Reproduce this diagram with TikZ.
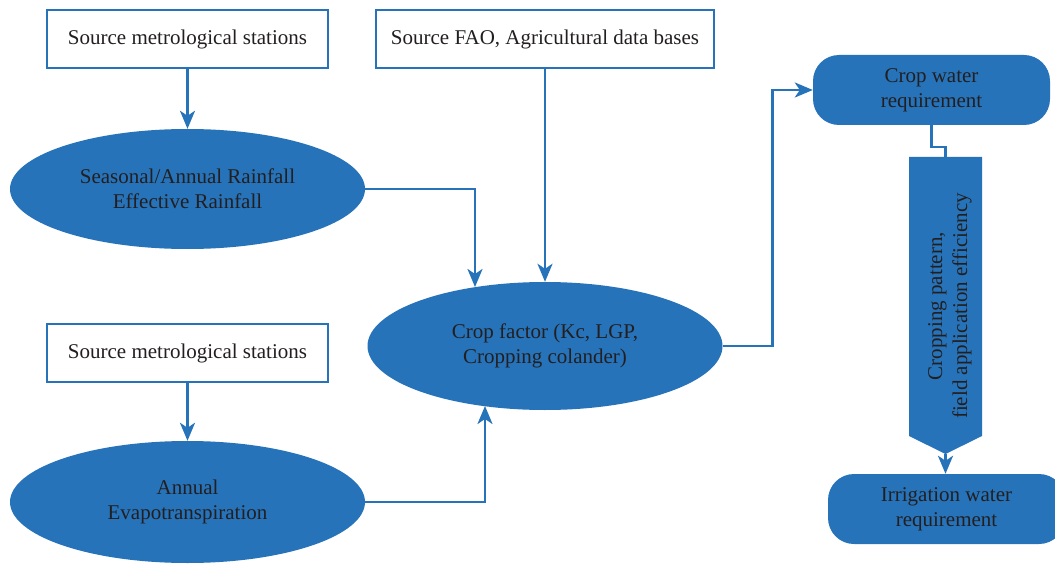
\documentclass[tikz,border=0pt]{standalone}
\usepackage{fontspec}
\setmainfont{Liberation Serif}
\usetikzlibrary{shapes.geometric,arrows.meta}
\definecolor{flowblue}{HTML}{2673BA}
\definecolor{textgray}{HTML}{231F20}
\begin{document}
\begin{tikzpicture}[x=1pt,y=-1pt]
\tikzstyle{every node}+=[inner sep=0pt, font=\fontsize{21}{25}\selectfont, align=center, text=textgray]
\tikzstyle{src}=[draw=flowblue, line width=2pt, fill=white, minimum height=58pt]
\tikzstyle{oval}=[ellipse, fill=flowblue, minimum width=355pt]
\tikzstyle{res}=[fill=flowblue, rounded corners=26pt, minimum width=237pt, minimum height=70pt]
\tikzstyle{conn}=[flowblue, line width=2.5pt, -{Stealth[length=18pt,width=15pt,inset=5pt]}]
\tikzstyle{link}=[flowblue, line width=2.5pt]
\useasboundingbox (0,0) rectangle (1055,567);
\node [src, minimum width=281pt] (met1) at (187.5,39) {Source metrological stations};
\node [src, minimum width=338pt] (fao) at (545,39) {Source FAO, Agricultural data bases};
\node [src, minimum width=281pt] (met2) at (187.5,353) {Source metrological stations};
\node [oval, minimum height=120pt] (rain) at (187.5,189) {Seasonal/Annual Rainfall\\Effective Rainfall};
\node [oval, minimum height=128pt] (kc) at (545,346) {Crop factor (Kc, LGP,\\Cropping colander)};
\node [oval, minimum height=122pt] (evap) at (187.5,502) {Annual\\Evapotranspiration};
\node [res] (cwr) at (931.5,90) {Crop water\\requirement};
\node [res] (iwr) at (946.5,509) {Irrigation water\\requirement};
\fill [flowblue] (909,157) -- (982,157) -- (982,436) -- (945.5,454) -- (909,436) -- cycle;
\node [rotate=90] (pat) at (950,306) {Cropping pattern,\\field application efficiency};
\coordinate (pattop) at (945.5,157);
\coordinate (pattip) at (945.5,454);
\coordinate (kcin1) at (475,287);
\coordinate (kcin2) at (485,406);
\draw [conn] (met1) -- (rain);
\draw [conn] (met2) -- (evap);
\draw [conn] (fao) -- (kc);
\draw [conn] (rain.east) -| (kcin1);
\draw [conn] (evap.east) -| (kcin2);
\draw [conn] (kc.east) -- ++(50,0) |- (cwr.west);
\draw [link] (cwr.south) -- ++(0,22) -| (pattop);
\draw [conn] (pattip) -- (iwr.north -| pattip);
\end{tikzpicture}
\end{document}
